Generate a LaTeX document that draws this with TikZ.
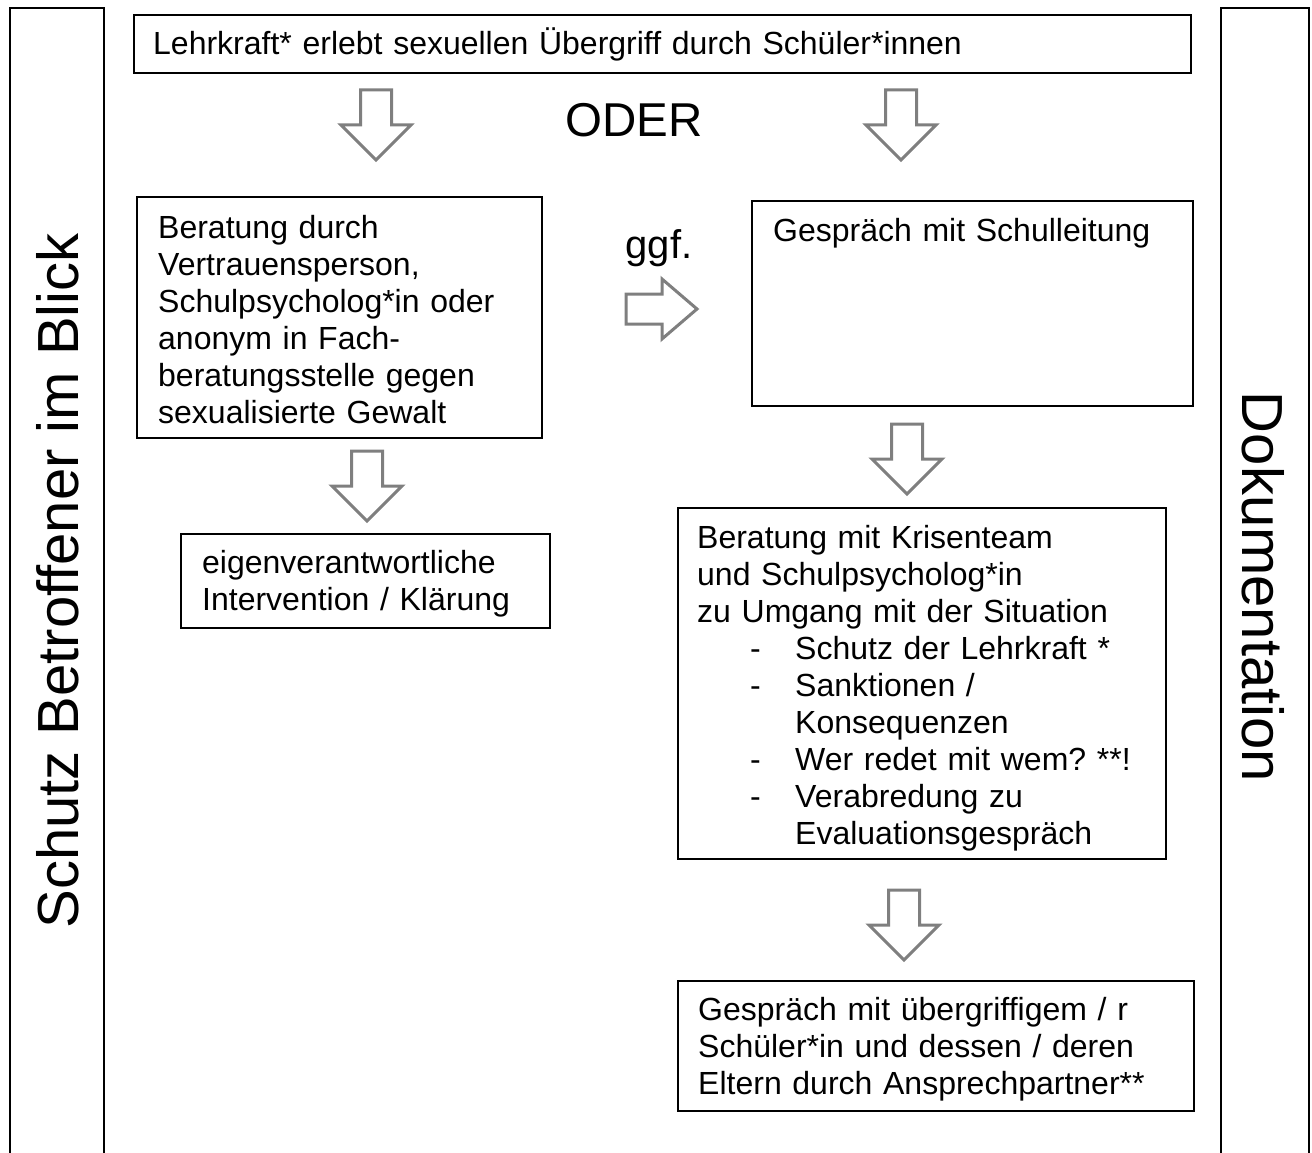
\documentclass[tikz,border=0pt]{standalone}
\usepackage{fontspec}
\setmainfont{Liberation Sans}
\definecolor{arrowgray}{HTML}{7F7F7F}
\tikzset{
  box/.style={draw=black, line width=1.8pt, anchor=north west, inner sep=0pt},
  body/.style={font=\fontsize{32}{37}\selectfont, inner sep=0pt, anchor=base west, align=left, text width=#1},
  bar/.style={draw=black, line width=2.5pt},
  arr/.style={draw=arrowgray, line width=3pt, fill=white, line join=miter},
  dnarr/.pic={\draw[arr] (-15.5,0) -- (15.5,0) -- (15.5,35) -- (35,35) -- (0,70) -- (-35,35) -- (-15.5,35) -- cycle;},
  rtarr/.pic={\draw[arr] (0,-15) -- (36,-15) -- (36,-30) -- (71,0) -- (36,30) -- (36,15) -- (0,15) -- cycle;},
}
\newcommand{\dashitem}{\hspace*{53pt}\makebox[45pt][l]{-}}
\newcommand{\dashcont}{\hspace*{98pt}}
\frenchspacing
\begin{document}
\begin{tikzpicture}[x=1pt,y=-1pt]
\useasboundingbox (0,0) rectangle (1312,1153);

% side bars
\draw[bar] (10,1160) -- (10,8) -- (104,8) -- (104,1160);
\draw[bar] (1221,1160) -- (1221,8) -- (1309,8) -- (1309,1160);
\node[rotate=90, anchor=base, inner sep=0pt, font=\fontsize{58}{66}\selectfont] (schutz) at (78,581) {Schutz Betroffener im Blick};
\node[rotate=-90, anchor=base, inner sep=0pt, font=\fontsize{58}{66}\selectfont] (doku) at (1242,587) {Dokumentation};

% top box
\node[box, minimum width=1057pt, minimum height=58pt] (top) at (133,14) {};
\node[body=1030pt] (toptxt) at (153,55) {Lehrkraft* erlebt sexuellen Übergriff durch Schüler*innen};

% ODER and arrows
\node[anchor=base, inner sep=0pt, font=\fontsize{47.5}{54}\selectfont] (oder) at (634,137) {ODER};
\pic at (376,90) {dnarr};
\pic at (901,90) {dnarr};

% left branch
\node[box, minimum width=405pt, minimum height=241pt] (ber) at (136,196) {};
\node[body=380pt] (bertxt) at (158,238) {Beratung durch\\Vertrauensperson,\\Schulpsycholog*in oder\\anonym in Fach-\\beratungsstelle gegen\\sexualisierte Gewalt};
\pic at (367,451) {dnarr};
\node[box, minimum width=369pt, minimum height=94pt] (eig) at (180,533) {};
\node[body=340pt] (eigtxt) at (202,573) {eigenverantwortliche\\Intervention / Klärung};

% ggf.
\node[anchor=base, inner sep=0pt, font=\fontsize{40}{46}\selectfont] (ggf) at (659,258) {ggf.};
\pic at (626,309) {rtarr};

% right branch
\node[box, minimum width=441pt, minimum height=205pt] (sl) at (751,200) {};
\node[body=410pt] (sltxt) at (773,241) {Gespräch mit Schulleitung};
\pic at (907,424) {dnarr};
\node[box, minimum width=488pt, minimum height=351pt] (kt) at (677,507) {};
\node[body=470pt] (kttxt) at (697,548) {Beratung mit Krisenteam\\und Schulpsycholog*in\\zu Umgang mit der Situation\\\dashitem Schutz der Lehrkraft *\\\dashitem Sanktionen /\\\dashcont Konsequenzen\\\dashitem Wer redet mit wem? **!\\\dashitem Verabredung zu\\\dashcont Evaluationsgespräch};
\pic at (904,890) {dnarr};
\node[box, minimum width=516pt, minimum height=130pt] (ges) at (677,980) {};
\node[body=490pt] (gestxt) at (698,1020) {Gespräch mit übergriffigem / r\\Schüler*in und dessen / deren\\Eltern durch Ansprechpartner**};
\end{tikzpicture}
\end{document}
